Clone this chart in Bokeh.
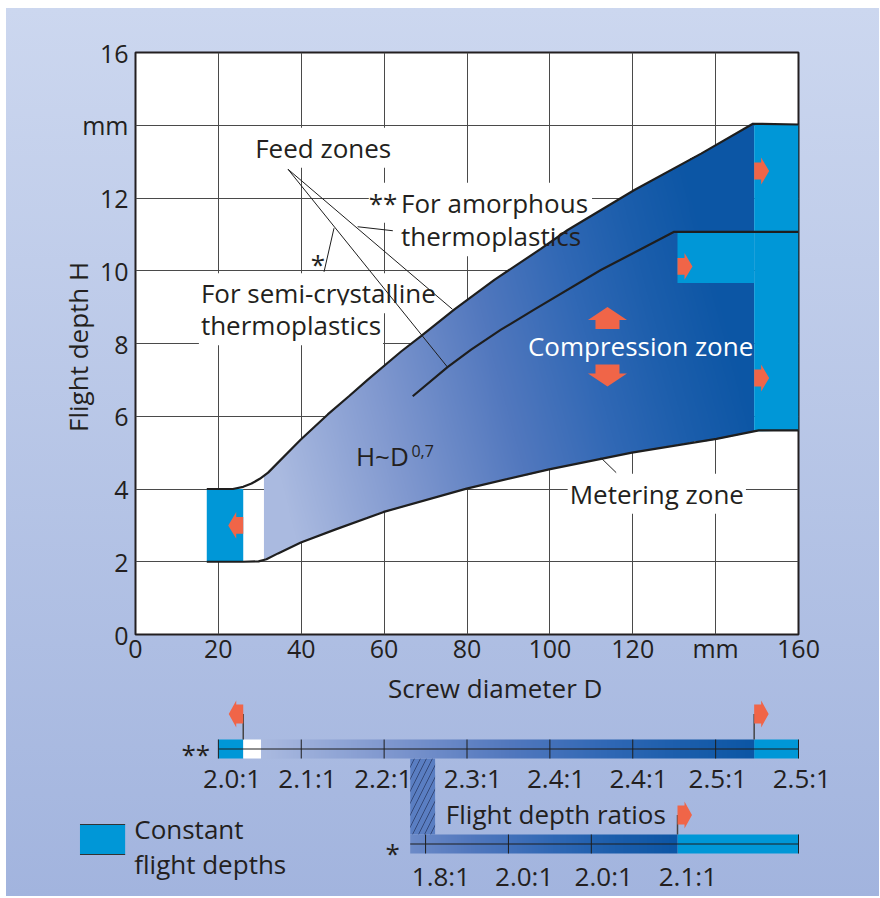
import numpy as np
from bokeh.plotting import figure
from bokeh.layouts import column
from bokeh.models import Range1d, FixedTicker
from bokeh.core.properties import value
from bokeh.embed import file_html
from bokeh.resources import INLINE

# ---------------- data ----------------
x_ticks = [0, 20, 40, 60, 80, 100, 120, 140, 160]
x_tick_overrides = {140: "mm"}
y_ticks = [0, 2, 4, 6, 8, 10, 12, 14, 16]
y_tick_overrides = {14: "mm"}

# upper boundary (feed depth, amorphous thermoplastics **)
upper_D = [17.2, 23.5, 26.0, 28.0, 30.0, 32.0, 39.9, 46.4, 51.5, 56.0, 64.1, 68.9,
           76.9, 86.6, 97.8, 104.3, 120.4, 136.5, 149.0, 160.0]
upper_H = [4.0, 4.0, 4.06, 4.15, 4.28, 4.45, 5.36, 6.05, 6.55, 7.0, 7.78, 8.2,
           8.93, 9.75, 10.6, 11.12, 12.22, 13.22, 14.04, 14.02]
# lower boundary (metering depth)
lower_D = [17.2, 26.0, 29.7, 31.6, 34.4, 39.9, 48.3, 59.9, 79.9, 99.8, 119.8, 140.2, 150.4, 160.0]
lower_H = [2.0, 2.0, 2.01, 2.07, 2.23, 2.53, 2.89, 3.37, 4.01, 4.54, 5.0, 5.38, 5.61, 5.61]
# feed depth for semi-crystalline thermoplastics (*)
semi_D = [66.9, 75.3, 81.0, 88.2, 96.2, 112.3, 130.0, 160.0]
semi_H = [6.55, 7.35, 7.83, 8.38, 8.93, 10.02, 11.07, 11.07]

feed_const_D = [17.2, 26.0]
feed_const_H = [2.0, 4.0]
gradient_start_D = 31.0
amorph_meter_D = 149.3
semi_meter_D = 130.8
semi_meter_H = [9.66, 11.07]

# orange arrows in the chart
arrow_D = [26.0, 149.3, 130.8, 149.3, 113.9, 113.9]
arrow_H = [3.0, 12.74, 10.12, 7.05, 8.40, 7.42]
arrow_dir = ["left", "right", "right", "right", "up", "down"]

# leader lines
leader_D0 = [36.8, 36.8, 45.5, 53.6, 112.3]
leader_H0 = [12.79, 12.79, 9.97, 11.21, 4.86]
leader_D1 = [75.3, 76.5, 47.9, 62.1, 116.0]
leader_H1 = [7.35, 8.94, 11.17, 11.10, 4.45]

# flight depth ratio bars
amorph_bar_D = [20.0, 160.0]
amorph_white_end_D = 30.3
amorph_ticks = [20, 40, 60, 80, 100, 120, 140, 160]
ratios_amorph = ["2.0:1", "2.1:1", "2.2:1", "2.3:1", "2.4:1", "2.4:1", "2.5:1", "2.5:1"]
ratios_amorph_D = [23.3, 41.5, 59.8, 81.4, 101.5, 121.4, 140.5, 160.8]
semi_bar_D = [66.3, 160.0]
semi_ticks = [70, 90, 110, 160]
ratios_semi = ["1.8:1", "2.0:1", "2.0:1", "2.1:1"]
ratios_semi_D = [73.7, 93.8, 113.0, 133.3]
hatch_D = [66.3, 72.3]
flag_D = [26.0, 149.3, 130.8]
flag_dir = ["left", "right", "right"]

# ---------------- styles / layout ----------------
TEXT = "#231f20"
BLUE = "#0097d7"
ORANGE = "#f06548"
LINE = "#1e1e1e"
FONT = value("Open Sans")
PAGE_TOP = 8
W, H_TOP = 873, 659
PANEL_TOP = PAGE_TOP + H_TOP          # page y where the lower panel starts
H_BOT = 896 - PANEL_TOP
BL, FW, BT, FH = 129, 663, 44, 583
SX = FW / 160.0
SY = FH / 16.0
FIX = 9.5  # px: text baseline correction

STOP_T = [0.0, 0.25, 0.5, 0.7, 0.85, 1.0]
STOP_R = [170, 128, 82, 48, 28, 12]
STOP_G = [186, 152, 120, 104, 94, 86]
STOP_B = [224, 207, 190, 181, 172, 165]


def ramp(t):
    t = np.clip(t, 0, 1)
    return (np.interp(t, STOP_T, STOP_R), np.interp(t, STOP_T, STOP_G), np.interp(t, STOP_T, STOP_B))


def rgba_image(r, g, b, a):
    ny, nx = r.shape
    img = np.zeros((ny, nx), dtype=np.uint32)
    v = img.view(dtype=np.uint8).reshape((ny, nx, 4))
    v[..., 0] = r
    v[..., 1] = g
    v[..., 2] = b
    v[..., 3] = a
    return img


def arrow_poly(bx, by, direction, body, head, bh, hh, sx, sy):
    pts = [(0, -bh), (body, -bh), (body, -hh), (body + head, 0), (body, hh), (body, bh), (0, bh)]
    xs, ys = [], []
    for u, v in pts:
        if direction == "right":
            dx, dy = u, v
        elif direction == "left":
            dx, dy = -u, v
        elif direction == "up":
            dx, dy = v, u
        else:
            dx, dy = v, -u
        xs.append(bx + dx / sx)
        ys.append(by + dy / sy)
    return xs, ys


def ty(vals):  # top chart text baselines (H units)
    return [v + FIX / SY for v in vals]


def py(vals):  # lower panel: page px -> panel px (downwards)
    return [v - PANEL_TOP for v in vals]


def pb(vals):  # lower panel text baselines from page px
    return [v - PANEL_TOP - FIX for v in vals]


# ================= main chart =================
p = figure(width=W, height=H_TOP, x_range=Range1d(0, 160), y_range=Range1d(0, 16),
           output_backend="svg", toolbar_location=None, frame_align=False,
           min_border_left=BL, min_border_right=W - BL - FW, min_border_top=BT,
           min_border_bottom=H_TOP - BT - FH,
           background_fill_color="white", border_fill_color=None,
           outline_line_color=TEXT, outline_line_width=2)

for ax, ticks, over in ((p.xaxis, x_ticks, x_tick_overrides), (p.yaxis, y_ticks, y_tick_overrides)):
    ax.ticker = FixedTicker(ticks=ticks)
    ax.major_label_overrides = over
    ax.major_label_text_font = "Open Sans"
    ax.major_label_text_font_size = "25px"
    ax.major_label_text_color = TEXT
    ax.major_tick_line_color = None
    ax.major_tick_out = 0
    ax.major_tick_in = 0
    ax.minor_tick_line_color = None
    ax.minor_tick_out = 0
    ax.axis_line_color = None
p.xaxis.major_label_standoff = -4
p.yaxis.major_label_standoff = 7
p.xgrid.ticker = FixedTicker(ticks=x_ticks)
p.ygrid.ticker = FixedTicker(ticks=y_ticks)
p.grid.grid_line_color = "#4a4a4a"
p.grid.grid_line_width = 1

p.yaxis.axis_label = "Flight depth  H"
p.yaxis.axis_label_text_font = "Open Sans"
p.yaxis.axis_label_text_font_size = "26px"
p.yaxis.axis_label_text_font_style = "normal"
p.yaxis.axis_label_text_color = TEXT
p.yaxis.axis_label_standoff = -17

# knockout boxes behind labels that lie on the grid
ko_x = [28.4, 15.3, 15.3, 104.3, 56.3, 64.07, 64.07]
ko_y = [13.12, 9.12, 8.24, 3.61, 11.61, 11.61, 10.69]
ko_t = ["Feed zones", "For semi-crystalline", "thermoplastics", "Metering zone",
        "**", "For amorphous", "thermoplastics"]
ko_a = [1, 1, 1, 1, 0, 0, 0]
p.text(x=ko_x, y=ty(ko_y), text=ko_t, text_font=FONT, text_font_size=value("26px"),
       text_color=TEXT, text_alpha=ko_a, text_align="left", text_baseline="alphabetic",
       background_fill_color="white", padding=2)

# constant feed depth
p.quad(left=[feed_const_D[0]], right=[feed_const_D[1]], bottom=[feed_const_H[0]],
       top=[feed_const_H[1]], fill_color=BLUE, line_color=None)

# gradient region between the boundaries
NX, NY = 500, 460
h0, h1 = 1.9, 14.2
g0, g1 = gradient_start_D, amorph_meter_D
Dc = g0 + (np.arange(NX) + 0.5) * (g1 - g0) / NX
Hc = h0 + (np.arange(NY) + 0.5) * (h1 - h0) / NY
DD, HH = np.meshgrid(Dc, Hc)
up = np.interp(DD, upper_D, upper_H)
lo = np.interp(DD, lower_D, lower_H)
mask = (HH >= lo) & (HH <= up)
r, g, b = ramp((DD - g0) / (g1 - g0) + 0.02 * (HH - 6))
img = rgba_image(r, g, b, np.where(mask, 255, 0))
p.image_rgba(image=[img], x=g0, y=h0, dw=g1 - g0, dh=h1 - h0, level="glyph")

# constant metering depths
mx = [amorph_meter_D, 160, 160, amorph_meter_D]
my = [np.interp(amorph_meter_D, upper_D, upper_H), np.interp(160, upper_D, upper_H),
      np.interp(160, lower_D, lower_H), np.interp(amorph_meter_D, lower_D, lower_H)]
p.patch(mx, my, fill_color=BLUE, line_color=None)
p.quad(left=[semi_meter_D], right=[amorph_meter_D], bottom=[semi_meter_H[0]],
       top=[semi_meter_H[1]], fill_color=BLUE, line_color=None)

# arrows
axs, ays = [], []
for d, h, di in zip(arrow_D, arrow_H, arrow_dir):
    if di in ("up", "down"):
        xs, ys = arrow_poly(d, h, di, 9, 13, 12, 19.5, SX, SY)
    else:
        xs, ys = arrow_poly(d, h, di, 7, 8, 8.5, 13.5, SX, SY)
    axs.append(xs)
    ays.append(ys)
p.patches(axs, ays, fill_color=ORANGE, line_color=None)

# boundary lines
p.line(upper_D, upper_H, line_color=LINE, line_width=2.2)
p.line(lower_D, lower_H, line_color=LINE, line_width=2.2)
p.line(semi_D, semi_H, line_color=LINE, line_width=2.2)

# leader lines
p.segment(x0=leader_D0, y0=leader_H0, x1=leader_D1, y1=leader_H1, line_color=LINE, line_width=1)

# texts on top
p.text(x=[56.3, 64.07, 64.07], y=ty([11.61, 11.61, 10.69]),
       text=["**", "For amorphous", "thermoplastics"], text_font=FONT,
       text_font_size=value("26px"), text_color=TEXT, text_align="left", text_baseline="alphabetic")
p.text(x=[44.0], y=ty([9.92]), text=["*"], text_font=FONT, text_font_size=value("26px"),
       text_color=TEXT, text_align="center", text_baseline="alphabetic")
p.text(x=[53.2], y=ty([4.66]), text=["H~D"], text_font=FONT, text_font_size=value("26px"),
       text_color=TEXT, text_align="left", text_baseline="alphabetic")
p.text(x=[66.6], y=[4.87 + 6.0 / SY], text=["0,7"], text_font=FONT, text_font_size=value("16px"),
       text_color=TEXT, text_align="left", text_baseline="alphabetic")
p.text(x=[121.9], y=ty([7.66]), text=["Compression zone"], text_font=FONT,
       text_font_size=value("26px"), text_color="white", text_align="center",
       text_baseline="alphabetic")

# ================= x-axis title and ratio bars =================
p2 = figure(width=W, height=H_BOT, x_range=Range1d(-BL / SX, (W - BL) / SX),
            y_range=Range1d(H_BOT, 0), x_axis_type=None, y_axis_type=None,
            output_backend="svg", toolbar_location=None, frame_align=False, min_border=0,
            min_border_left=0, min_border_right=0, min_border_top=0, min_border_bottom=0,
            background_fill_color=None, border_fill_color=None, outline_line_color=None)

# x-axis title of the chart above
p2.text(x=[86.8], y=pb([697]), text=["Screw diameter D"], text_font=FONT,
        text_font_size=value("26px"), text_color=TEXT, text_align="center", text_baseline="alphabetic")

AB = py([739, 758])
SB = py([834, 853])

# hatched connector
p2.quad(left=[hatch_D[0]], right=[hatch_D[1]], top=[AB[1]], bottom=[SB[0]],
        fill_color="#5a7ec2", line_color=None, hatch_pattern="/", hatch_color="#34497a",
        hatch_scale=12, hatch_weight=1)

# ** bar
p2.quad(left=[amorph_bar_D[0], feed_const_D[1], amorph_meter_D],
        right=[feed_const_D[1], amorph_white_end_D, amorph_bar_D[1]],
        top=[AB[0]] * 3, bottom=[AB[1]] * 3, fill_color=[BLUE, "white", BLUE], line_color=None)
NB = 400
bD = amorph_white_end_D + (np.arange(NB) + 0.5) * (amorph_meter_D - amorph_white_end_D) / NB
r, g, b = ramp((bD - gradient_start_D) / (amorph_meter_D - gradient_start_D))
bimg = rgba_image(*(np.tile(c, (2, 1)) for c in (r, g, b)), np.full((2, NB), 255))
p2.image_rgba(image=[bimg], x=amorph_white_end_D, y=AB[0], dw=amorph_meter_D - amorph_white_end_D,
              dh=AB[1] - AB[0], level="glyph")

# * bar
p2.quad(left=[semi_meter_D], right=[semi_bar_D[1]], top=[SB[0]], bottom=[SB[1]],
        fill_color=BLUE, line_color=None)
sD = semi_bar_D[0] + (np.arange(NB) + 0.5) * (semi_meter_D - semi_bar_D[0]) / NB
r, g, b = ramp((sD - gradient_start_D) / (semi_meter_D - gradient_start_D))
simg = rgba_image(*(np.tile(c, (2, 1)) for c in (r, g, b)), np.full((2, NB), 255))
p2.image_rgba(image=[simg], x=semi_bar_D[0], y=SB[0], dw=semi_meter_D - semi_bar_D[0],
              dh=SB[1] - SB[0], level="glyph")

# center lines and ticks
p2.segment(x0=[amorph_bar_D[0], semi_bar_D[0]], x1=[amorph_bar_D[1], semi_bar_D[1]],
           y0=[(AB[0] + AB[1]) / 2, (SB[0] + SB[1]) / 2], y1=[(AB[0] + AB[1]) / 2, (SB[0] + SB[1]) / 2],
           line_color=LINE, line_width=1.2)
p2.segment(x0=amorph_ticks, x1=amorph_ticks, y0=[AB[0]] * len(amorph_ticks),
           y1=[AB[1]] * len(amorph_ticks), line_color=LINE, line_width=1)
p2.segment(x0=semi_ticks, x1=semi_ticks, y0=[SB[0]] * len(semi_ticks),
           y1=[SB[1]] * len(semi_ticks), line_color=LINE, line_width=1)

# flags
flag_y = py([713.5, 713.5, 814.5])
flag_bottom = [AB[0], AB[0], SB[0]]
p2.segment(x0=flag_D, x1=flag_D, y0=flag_y, y1=flag_bottom, line_color="#444444", line_width=1.5)
fxs, fys = [], []
for d, y, di in zip(flag_D, flag_y, flag_dir):
    xs, ys = arrow_poly(d, y, di, 7, 7.5, 9.5, 13.5, SX, -1.0)
    fxs.append(xs)
    fys.append(ys)
p2.patches(fxs, fys, fill_color=ORANGE, line_color=None)

# texts
p2.text(x=ratios_amorph_D, y=pb([787] * len(ratios_amorph)), text=ratios_amorph, text_font=FONT,
        text_font_size=value("26px"), text_color=TEXT, text_align="center", text_baseline="alphabetic")
p2.text(x=ratios_semi_D, y=pb([885] * len(ratios_semi)), text=ratios_semi, text_font=FONT,
        text_font_size=value("26px"), text_color=TEXT, text_align="center", text_baseline="alphabetic")
p2.text(x=[18.0, 63.8], y=pb([762.5, 861.5]), text=["**", "*"], text_font=FONT,
        text_font_size=value("26px"), text_color=TEXT, text_align="right", text_baseline="alphabetic")
p2.text(x=[74.9], y=pb([822.7]), text=["Flight depth ratios"], text_font=FONT,
        text_font_size=value("26px"), text_color=TEXT, text_align="left", text_baseline="alphabetic")

# legend
LEG = (-13.4, -2.5)
LEG_Y = py([824, 854])
p2.quad(left=[LEG[0]], right=[LEG[1]], top=[LEG_Y[0]], bottom=[LEG_Y[1]], fill_color=BLUE, line_color=None)
p2.segment(x0=[LEG[0], LEG[0]], x1=[LEG[1], LEG[1]], y0=LEG_Y, y1=LEG_Y,
           line_color="#333333", line_width=1)
p2.text(x=[-0.3, -0.3], y=pb([838.3, 872.7]), text=["Constant", "flight depths"], text_font=FONT,
        text_font_size=value("26px"), text_color=TEXT, text_align="left", text_baseline="alphabetic")

layout = column(p, p2, spacing=0,
                styles={"background": "linear-gradient(180deg, #ccd7ef 0%, #a2b4de 100%)",
                        "margin-left": "6px", "margin-top": "%dpx" % PAGE_TOP})
open("out.html", "w").write(file_html(layout, INLINE, title="Flight depths"))
